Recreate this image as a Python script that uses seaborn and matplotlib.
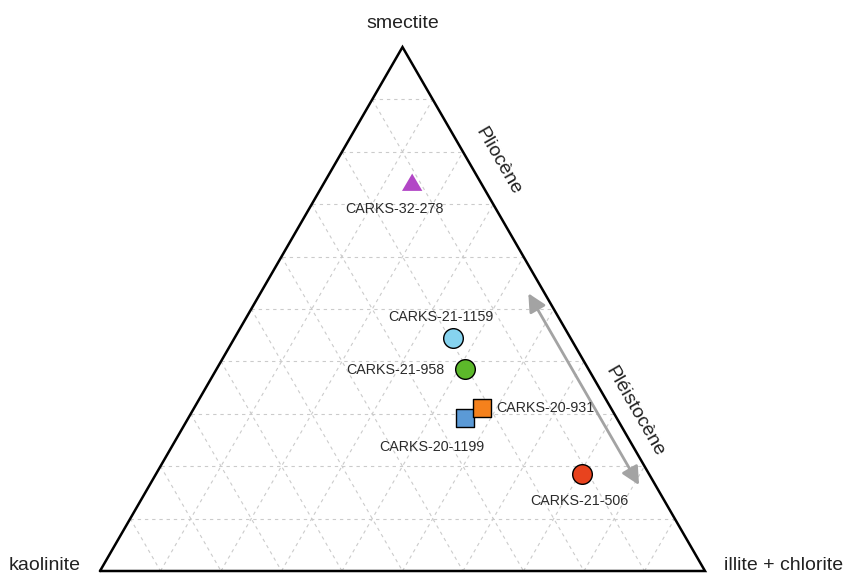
import numpy as np
import pandas as pd
import matplotlib
matplotlib.use("Agg")
import matplotlib.pyplot as plt
import seaborn as sns

# Clay mineral proportions (fractions) for each sample
samples = ["CARKS-32-278", "CARKS-21-1159", "CARKS-21-958",
           "CARKS-20-1199", "CARKS-20-931", "CARKS-21-506"]
smectite = [0.742, 0.445, 0.386, 0.292, 0.312, 0.185]
illite_chlorite = [0.145, 0.361, 0.410, 0.457, 0.476, 0.705]
kaolinite = [0.113, 0.194, 0.204, 0.251, 0.212, 0.110]

colors = ["#b246c6", "#86d3ef", "#5cb82a", "#5b9ad6", "#f5811c", "#e8431e"]
marker_kinds = ["tri", "o", "o", "s", "s", "o"]
edge_on = [False, True, True, True, True, True]

# label offsets (points) and alignment relative to each marker
label_offsets = [(-13, -19, "center"), (-9, 15, "center"), (-15, -1, "right"),
                 (-24, -21, "center"), (10, 0, "left"), (-2, -19.5, "center")]

apex_labels = ["kaolinite", "illite + chlorite", "smectite"]
period_labels = ["Pliocène", "Pléistocène"]

SQ3 = np.sqrt(3) / 2


def to_xy(ill, sme):
    """Ternary (illite+chlorite, smectite) -> cartesian in a unit-side triangle."""
    ill = np.asarray(ill, dtype=float)
    sme = np.asarray(sme, dtype=float)
    return ill + sme / 2, sme * SQ3


x, y = to_xy(illite_chlorite, smectite)
df = pd.DataFrame({"sample": samples, "x": x, "y": y})

sns.set_theme(style="white")
plt.rcParams["font.family"] = ["Liberation Sans", "DejaVu Sans"]

fig = plt.figure(figsize=(8.48, 5.78), dpi=100)
ax = fig.add_axes([0, 0, 1, 1])
scale = 605.0
ax.set_xlim(-100 / scale, 748 / scale)
ax.set_ylim(-7 / scale, 571 / scale)
ax.axis("off")

# dashed ternary grid, 10 % steps
for t in np.arange(0.1, 0.95, 0.1):
    grid = [
        ((0, t), (1 - t, t)),          # constant smectite
        ((t, 0), (t, 1 - t)),          # constant illite + chlorite
        ((0, 1 - t), (1 - t, 0)),      # constant kaolinite
    ]
    for (i0, s0), (i1, s1) in grid:
        xs, ys = to_xy([i0, i1], [s0, s1])
        ax.plot(xs, ys, ls=(0, (3, 3.5)), color="#cbcbcb", lw=0.8, zorder=1)

# triangle outline
bx, by = to_xy([0, 1, 0, 0], [0, 0, 1, 0])
ax.plot(bx, by, color="black", lw=1.8, solid_joinstyle="miter", zorder=2)

tri_marker = [(-1, -0.85), (1, -0.85), (0, 0.85), (-1, -0.85)]
marker_map = {"tri": tri_marker, "o": "o", "s": "s"}
markers = {s: marker_map[m] for s, m in zip(samples, marker_kinds)}
palette = dict(zip(samples, colors))
sizes = {"tri": 215, "o": 200, "s": 175}

for i, s in enumerate(samples):
    sns.scatterplot(data=df[df["sample"] == s], x="x", y="y", hue="sample",
                    style="sample", palette={s: palette[s]},
                    markers={s: markers[s]}, s=sizes[marker_kinds[i]],
                    edgecolor="black" if edge_on[i] else "none",
                    linewidth=1.0, legend=False, ax=ax, zorder=3 + i)

for s, xi, yi, (dx, dy, ha) in zip(samples, x, y, label_offsets):
    ax.annotate(s, (xi, yi), xytext=(dx, dy), textcoords="offset points",
                ha=ha, va="center", fontsize=10.3, color="#2b2b2b", zorder=10)

# double-headed arrow along the illite side
ax0, ay0 = to_xy(0.443, 0.530)
ax1, ay1 = to_xy(0.809, 0.164)
ax.annotate("", xy=(ax1, ay1), xytext=(ax0, ay0),
            arrowprops=dict(arrowstyle="<|-|>,head_length=0.9,head_width=0.45",
                            color="#a3a3a3", lw=2.0, shrinkA=0, shrinkB=0),
            zorder=2)

# apex labels
ax.text(-55 / scale, 5 / scale, apex_labels[0], ha="center", va="center",
        fontsize=14, color="#222222")
ax.text(684 / scale, 5 / scale, apex_labels[1], ha="center", va="center",
        fontsize=14, color="#222222")
ax.text(0.5, 548 / scale, apex_labels[2], ha="center", va="center",
        fontsize=14, color="#222222")

# stratigraphic period labels, parallel to the right side
ax.text(398 / scale, 410 / scale, period_labels[0], rotation=-60,
        rotation_mode="anchor", ha="center", va="center", fontsize=14,
        color="#222222")
ax.text(535 / scale, 159 / scale, period_labels[1], rotation=-60,
        rotation_mode="anchor", ha="center", va="center", fontsize=14,
        color="#222222")

fig.savefig("out.png", dpi=100)
